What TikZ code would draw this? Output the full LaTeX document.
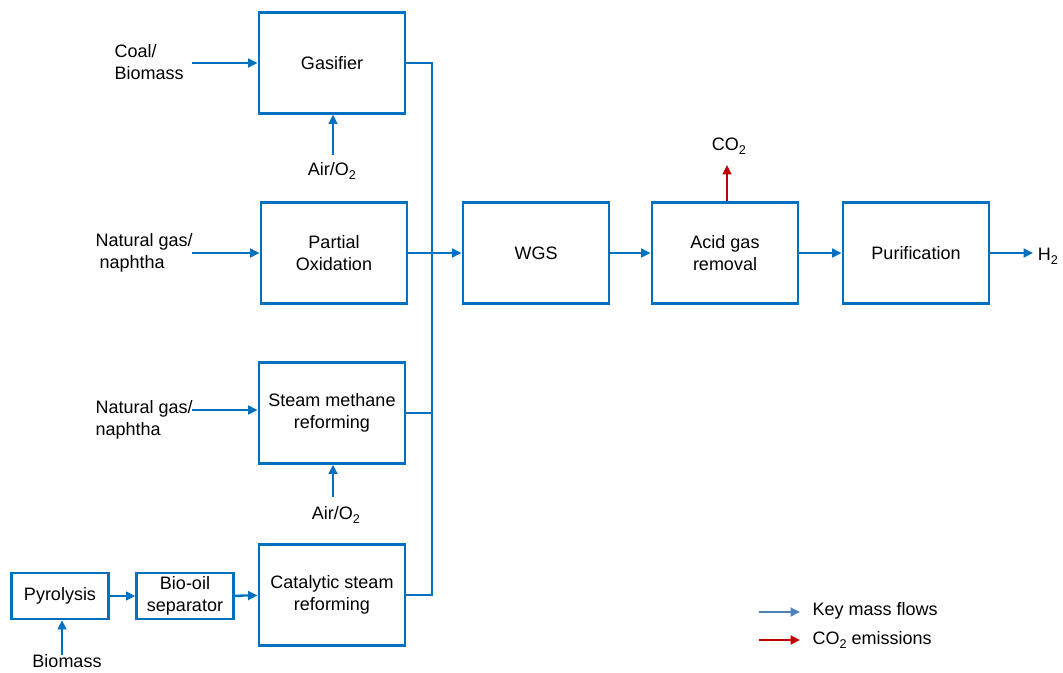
\documentclass[tikz,border=0pt]{standalone}
\usepackage{fontspec}
\setmainfont{Liberation Sans}
\usetikzlibrary{arrows.meta,positioning}
\definecolor{flowblue}{RGB}{0,112,192}
\definecolor{legblue}{RGB}{79,129,189}
\definecolor{co2red}{RGB}{192,0,0}
\newcommand{\lowtwo}{\raisebox{-0.45ex}{\fontsize{9.5}{10}\selectfont 2}}
\tikzset{
  unit/.style={draw=flowblue,line width=1.7pt,minimum width=110pt,minimum height=75.75pt,
    align=center,inner sep=2pt,font=\fontsize{13.5}{16.5}\selectfont},
  smallunit/.style={unit,minimum width=72.75pt,minimum height=34.5pt},
  lbl/.style={align=center,inner sep=1pt,font=\fontsize{13.5}{16.5}\selectfont},
  flow/.style={draw=flowblue,line width=1.7pt},
  feed/.style={flow,-{Triangle[length=7pt,width=6.5pt]}},
}
\begin{document}
\begin{tikzpicture}[x=0.75pt,y=-0.75pt]
  \useasboundingbox (0,0) rectangle (1063,672);
  % process units
  \node[unit] (gas) at (332,63) {Gasifier};
  \node[unit] (po) at (334,253) {Partial\\Oxidation};
  \node[unit] (smr) at (332,413) {Steam methane\\reforming};
  \node[unit] (csr) at (332,595) {Catalytic steam\\reforming};
  \node[unit] (wgs) at (536,253) {WGS};
  \node[unit] (agr) at (725,253) {Acid gas\\removal};
  \node[unit] (pur) at (916,253) {Purification};
  \node[smallunit] (pyr) at (60,596) {Pyrolysis};
  \node[smallunit] (bos) at (185,596) {Bio-oil\\separator};
  % feeds and products
  \node[lbl,align=left,anchor=west] (coal) at (113,62) {Coal/\\Biomass};
  \node[lbl] (air1) at (332,171) {Air/O\lowtwo};
  \node[lbl,align=left,anchor=west] (ng1) at (94,253) {Natural gas/\\\hspace*{3pt}naphtha};
  \node[lbl,align=left,anchor=west] (ng2) at (94,420) {Natural gas/\\naphtha};
  \node[lbl] (air2) at (336,515) {Air/O\lowtwo};
  \node[lbl] (bio) at (67,661) {Biomass};
  \node[lbl] (h2) at (1048,256) {H\lowtwo};
  \node[lbl] (co2) at (729,146) {CO\lowtwo};
  \coordinate (coalx) at (192,63);
  \coordinate (ng1x) at (192,253);
  \coordinate (ng2x) at (192,410);
  \coordinate (air1x) at (333,155);
  \coordinate (air2x) at (333,497);
  \coordinate (biox) at (62,655);
  \coordinate (h2x) at (1033,253);
  \coordinate (co2x) at (727,165);
  % collector
  \coordinate (bt) at (432,63);
  \coordinate (bb) at (432,595);
  \path[flow] (gas.east) -- (bt) -- (bb) -- (csr.east);
  \path[flow] (smr.east) -- (smr.east -| bt);
  \path[every edge/.style={feed}]
    (coalx) edge (gas.west)
    (air1x) edge (air1x |- gas.south)
    (ng1x) edge (po.west)
    (ng2x) edge (ng2x -| smr.west)
    (air2x) edge (air2x |- smr.south)
    (biox) edge (biox |- pyr.south)
    (pyr) edge (bos)
    (bos) edge (csr)
    (po.east) edge (wgs.west)
    (wgs) edge (agr)
    (agr) edge (pur)
    (pur.east) edge (h2x);
  \draw[line width=1.7pt,draw=co2red,-{Triangle[length=7pt,width=6.5pt]}] (agr.north -| co2x) -- (co2x);
  % legend
  \coordinate (l1a) at (759,612);
  \coordinate (l1b) at (800,612);
  \coordinate (l2a) at (759,640);
  \coordinate (l2b) at (800,640);
  \draw[line width=1.7pt,draw=legblue,-{Triangle[length=7pt,width=6.5pt]}] (l1a) -- (l1b);
  \draw[line width=1.7pt,draw=co2red,-{Triangle[length=7pt,width=6.5pt]}] (l2a) -- (l2b);
  \node[lbl,anchor=west] (k1) at (811,611) {Key mass flows};
  \node[lbl,anchor=west] (k2) at (811,640) {CO\lowtwo{} emissions};
\end{tikzpicture}
\end{document}
